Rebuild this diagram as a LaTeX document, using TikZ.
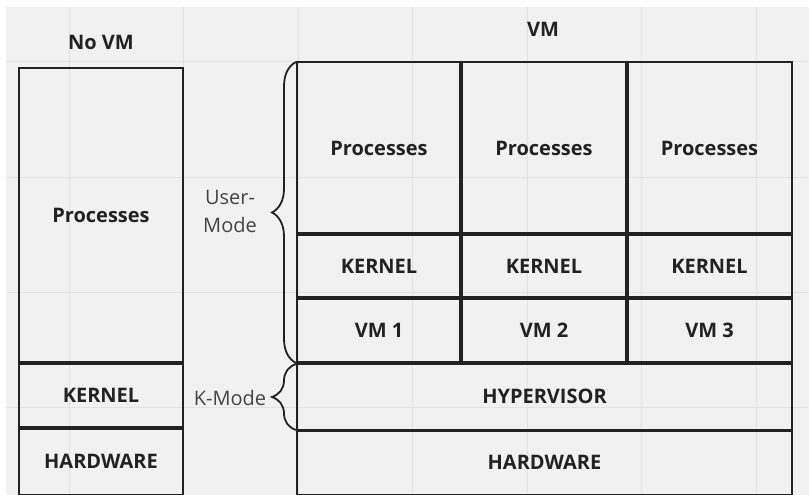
\documentclass[tikz,border=0pt]{standalone}
\usepackage{fontspec}
\setmainfont{Open Sans}
\usetikzlibrary{decorations.pathreplacing}
\definecolor{bgc}{HTML}{F1F1F1}
\definecolor{gridc}{HTML}{E2E2E2}
\definecolor{ink}{HTML}{222222}
\definecolor{soft}{HTML}{444444}
\tikzset{
  cell/.style={draw=ink, line width=2pt, rectangle, anchor=north west, inner sep=0pt, outer sep=0pt,
    font=\fontsize{20}{24}\selectfont\bfseries, text=ink},
  divider/.style={draw=ink, line width=4pt},
  titletext/.style={font=\fontsize{20}{24}\selectfont\bfseries, text=ink},
  modetext/.style={font=\fontsize{20}{28}\selectfont, text=soft, align=center},
  bracestyle/.style={draw=ink, line width=1.8pt, decorate, decoration={brace, amplitude=24pt}},
}
\begin{document}
\begin{tikzpicture}[x=1pt,y=-1pt]
\useasboundingbox (0,0) rectangle (809,495);
\clip (0,0) rectangle (809,495);
\fill[white] (0,0) rectangle (809,495);
\fill[bgc] (6,7) rectangle (809,495);
\foreach \gx in {69,183.5,298,412.5,527,641,756} {\draw[gridc, line width=1pt] (\gx,7) -- (\gx,495);}
\foreach \gy in {62,177,292,407} {\draw[gridc, line width=1pt] (6,\gy) -- (809,\gy);}

% titles
\node[titletext] (tnovm) at (101,42) {No VM};
\node[titletext] (tvm) at (543,29) {VM};

% left column
\node[cell, minimum width=164pt, minimum height=295pt] (lp) at (19,68) {Processes};
\node[cell, minimum width=164pt, minimum height=65pt] (lk) at (19,363) {KERNEL};
\node[cell, minimum width=164pt, minimum height=67pt] (lh) at (19,428) {HARDWARE};

% right block
\node[cell, minimum width=164pt, minimum height=172pt] (p1) at (297,62) {Processes};
\node[cell, minimum width=166pt, minimum height=172pt] (p2) at (461,62) {Processes};
\node[cell, minimum width=165pt, minimum height=172pt] (p3) at (627,62) {Processes};
\node[cell, minimum width=164pt, minimum height=64pt] (k1) at (297,234) {KERNEL};
\node[cell, minimum width=166pt, minimum height=64pt] (k2) at (461,234) {KERNEL};
\node[cell, minimum width=165pt, minimum height=64pt] (k3) at (627,234) {KERNEL};
\node[cell, minimum width=164pt, minimum height=65pt] (v1) at (297,298) {VM 1};
\node[cell, minimum width=166pt, minimum height=65pt] (v2) at (461,298) {VM 2};
\node[cell, minimum width=165pt, minimum height=65pt] (v3) at (627,298) {VM 3};
\node[cell, minimum width=495pt, minimum height=67pt] (hv) at (297,363) {HYPERVISOR};
\node[cell, minimum width=495pt, minimum height=65pt] (hw) at (297,430) {HARDWARE};

% thick dividers
\draw[divider] (lk.north west) -- (lk.north east);
\draw[divider] (lh.north west) -- (lh.north east);
\draw[divider] (p1.south west) -- (p3.south east);
\draw[divider] (k1.south west) -- (k3.south east);
\draw[divider] (v1.south west) -- (v3.south east);
\draw[divider] (p1.north east) -- (v1.south east);
\draw[divider] (p2.north east) -- (v2.south east);
\draw[draw=ink, line width=3pt] (hw.north west) -- (hw.north east);

% braces
\coordinate (ubot) at ([xshift=-1pt]v1.south west);
\coordinate (utop) at ([xshift=-1pt]p1.north west);
\coordinate (kbot) at ([xshift=-1pt]hv.south west);
\coordinate (ktop) at ([xshift=-1pt,yshift=-1pt]hv.north west);
\draw[bracestyle] (ubot) -- (utop);
\draw[bracestyle] (kbot) -- (ktop);
\node[modetext] (um) at (230,211) {User-\\Mode};
\node[modetext] (km) at (230,398) {K-Mode};
\end{tikzpicture}
\end{document}
